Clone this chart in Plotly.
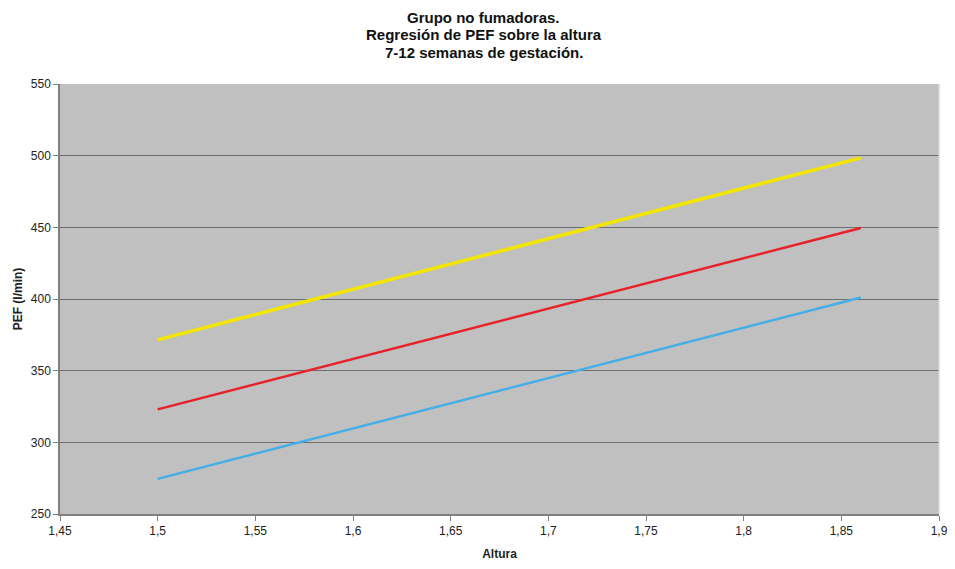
import plotly.graph_objects as go

altura = [1.5, 1.86]
pef_superior = [371.5, 498.5]
pef_regresion = [323.0, 449.5]
pef_inferior = [274.5, 401.0]

x_ticks = [1.45, 1.5, 1.55, 1.6, 1.65, 1.7, 1.75, 1.8, 1.85, 1.9]
x_tick_labels = ["1,45", "1,5", "1,55", "1,6", "1,65", "1,7", "1,75", "1,8", "1,85", "1,9"]
y_ticks = [250, 300, 350, 400, 450, 500, 550]

title_lines = ["Grupo no fumadoras.", "Regresión de PEF sobre la altura", "7-12 semanas de gestación."]

fig = go.Figure()
fig.add_trace(go.Scatter(x=altura, y=pef_superior, mode="lines",
                         line=dict(color="#F2E600", width=3.5), showlegend=False))
fig.add_trace(go.Scatter(x=altura, y=pef_regresion, mode="lines",
                         line=dict(color="#E8202A", width=2.5), showlegend=False))
fig.add_trace(go.Scatter(x=altura, y=pef_inferior, mode="lines",
                         line=dict(color="#45AEE6", width=2.5), showlegend=False))

title_font = dict(family="Liberation Sans Narrow, Arial Narrow, Liberation Sans", size=15, color="#111")
annotations = []
for i, line in enumerate(title_lines):
    annotations.append(dict(text="<b>%s</b>" % line, xref="paper", yref="paper",
                            x=0.482, y=1.0, yshift=67 - 17.5 * i, yanchor="middle",
                            showarrow=False, font=title_font))

fig.update_layout(
    width=947, height=561,
    margin=dict(l=52, r=16, t=76, b=55),
    paper_bgcolor="white",
    plot_bgcolor="#C0C0C0",
    font=dict(family="Liberation Sans, Arial", size=12, color="#222"),
    xaxis=dict(range=[1.45, 1.9], tickvals=x_ticks, ticktext=x_tick_labels,
               showgrid=False, zeroline=False, showline=True, linecolor="#808080",
               linewidth=1.5, ticks="outside", tickcolor="#808080", ticklen=5,
               automargin=False,
               title=dict(text="<b>Altura</b>", font=dict(size=12), standoff=12)),
    yaxis=dict(range=[250, 550], tickvals=y_ticks, showgrid=True, gridcolor="#6E6E6E",
               gridwidth=1, zeroline=False, showline=True, linecolor="#808080",
               linewidth=1.5, ticks="outside", tickcolor="#808080", ticklen=5,
               automargin=False,
               title=dict(text="<b>PEF (l/min)</b>", font=dict(size=12), standoff=6)),
    annotations=annotations,
    shapes=[dict(type="line", xref="paper", yref="paper", x0=1, x1=1, y0=0, y1=1,
                 line=dict(color="#D8D8D8", width=1.5))],
)

fig.write_html("out.html")
